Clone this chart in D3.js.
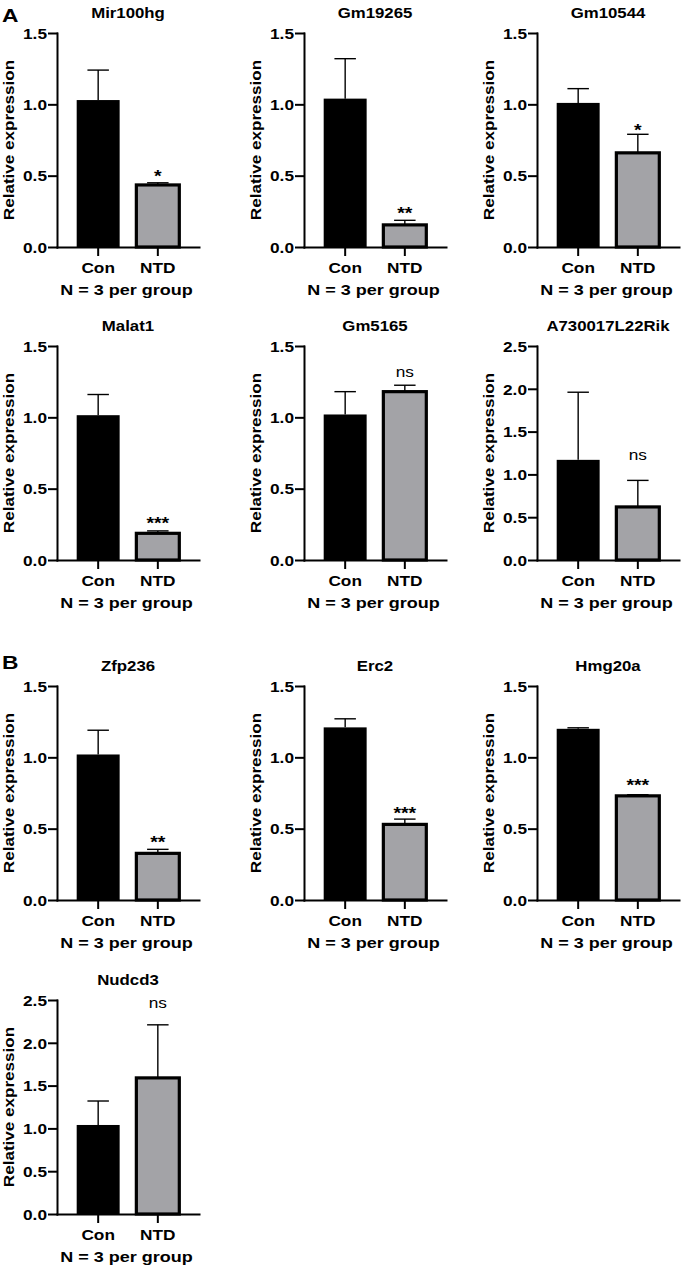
<!DOCTYPE html>
<html>
<head>
<meta charset="utf-8">
<script src="https://cdn.jsdelivr.net/npm/d3@7"></script>
<style>
  body { margin: 0; background: #fff; }
  text { font-family: "Liberation Sans", Arial, sans-serif; fill: #000; }
</style>
</head>
<body>
<div id="dataviz"></div>
<script>
// values
const genes = ["Mir100hg", "Gm19265", "Gm10544", "Malat1", "Gm5165", "A730017L22Rik",
               "Zfp236", "Erc2", "Hmg20a", "Nudcd3"];
const groups = ["Con", "NTD"];
const conMean = [1.03, 1.04, 1.01, 1.015, 1.02, 1.17, 1.02, 1.21, 1.20, 1.04];
const conSem  = [0.21, 0.28, 0.10, 0.145, 0.16, 0.79, 0.17, 0.06, 0.007, 0.28];
const ntdMean = [0.435, 0.155, 0.66, 0.187, 1.18, 0.62, 0.327, 0.53, 0.73, 1.59];
const ntdSem  = [0.015, 0.032, 0.13, 0.017, 0.045, 0.31, 0.028, 0.037, 0.008, 0.62];
const yMax    = [1.5, 1.5, 1.5, 1.5, 1.5, 2.5, 1.5, 1.5, 1.5, 2.5];
const sigMark = ["*", "**", "*", "***", "ns", "ns", "**", "***", "***", "ns"];
const sigLevel = [0.505, 0.245, 0.83, 0.264, 1.28, 1.163, 0.416, 0.617, 0.811, 2.41];
const footNote = "N = 3 per group";

// layout
const W = 685, H = 1267;
const colX = [57, 304, 537];
const rowTop = [33, 346, 686, 1000];
const panelRow = [0, 0, 0, 1, 1, 1, 2, 2, 2, 3];
const panelCol = [0, 1, 2, 0, 1, 2, 0, 1, 2, 0];
const sections = [{ label: "A", y: 22 }, { label: "B", y: 669 }];
const plotW = 142, plotH = 214;
const SX = 1.15;   // the figure's lettering is a bit wider than Arial

const svg = d3.select("#dataviz")
    .append("svg")
    .attr("width", W)
    .attr("height", H);

sections.forEach(s => {
    svg.append("text")
        .attr("transform", `translate(2,${s.y}) scale(1.2,1)`)
        .attr("font-size", "19px")
        .attr("font-weight", "bold")
        .text(s.label);
});

function label(g, str, x, y, size, sx, opts = {}) {
    return g.append("text")
        .attr("transform", `translate(${x},${y}) rotate(${opts.rotate || 0}) scale(${sx},1)`)
        .attr("text-anchor", opts.anchor || "middle")
        .attr("font-size", size + "px")
        .attr("font-weight", opts.weight || "bold")
        .text(str);
}

genes.forEach((gene, i) => {
    const g = svg.append("g")
        .attr("transform", `translate(${colX[panelCol[i]]},${rowTop[panelRow[i]]})`);

    const x = d3.scaleBand()
        .domain(groups)
        .range([0, plotW])
        .paddingInner(0.28)
        .paddingOuter(0.33);
    const y = d3.scaleLinear()
        .domain([0, yMax[i]])
        .range([plotH, 0]);

    const rows = [
        { grp: "Con", mean: conMean[i], sem: conSem[i], fill: "#000" },
        { grp: "NTD", mean: ntdMean[i], sem: ntdSem[i], fill: "#a3a3a7" }
    ];

    // error bars (upper only)
    const err = g.selectAll(".err")
        .data(rows)
        .join("g")
        .attr("class", "err")
        .attr("stroke", "#000")
        .attr("stroke-width", 1.4);
    err.append("line")
        .attr("x1", d => x(d.grp) + x.bandwidth() / 2)
        .attr("x2", d => x(d.grp) + x.bandwidth() / 2)
        .attr("y1", d => y(d.mean))
        .attr("y2", d => y(d.mean + d.sem));
    err.append("line")
        .attr("x1", d => x(d.grp) + x.bandwidth() / 4)
        .attr("x2", d => x(d.grp) + x.bandwidth() * 3 / 4)
        .attr("y1", d => y(d.mean + d.sem))
        .attr("y2", d => y(d.mean + d.sem));

    // bars
    g.selectAll(".bar")
        .data(rows)
        .join("rect")
        .attr("class", "bar")
        .attr("x", d => x(d.grp))
        .attr("width", x.bandwidth())
        .attr("y", d => y(d.mean))
        .attr("height", d => plotH - y(d.mean))
        .attr("fill", d => d.fill)
        .attr("stroke", "#000")
        .attr("stroke-width", d => d.grp === "NTD" ? 3.2 : 0);

    // axes
    const yAxis = g.append("g")
        .call(d3.axisLeft(y)
            .tickValues(d3.range(0, yMax[i] + 0.01, 0.5))
            .tickFormat(d3.format(".1f"))
            .tickSize(8)
            .tickPadding(2)
            .tickSizeOuter(0));
    yAxis.selectAll("text")
        .attr("transform", function () { return `translate(${this.getAttribute("x")},0) scale(${SX},1)`; })
        .attr("x", 0)
        .attr("dy", "0.35em");

    const xAxis = g.append("g")
        .attr("transform", `translate(0,${plotH})`)
        .call(d3.axisBottom(x)
            .tickSize(8)
            .tickSizeOuter(0));
    xAxis.selectAll("text")
        .attr("y", 26)
        .attr("dy", null)
        .attr("transform", `scale(${SX},1)`)
        .attr("x", 0);

    [yAxis, xAxis].forEach(a => {
        a.selectAll("path, line")
            .attr("stroke", "#000")
            .attr("stroke-width", 2)
            .attr("stroke-linecap", "square");
        a.selectAll("text")
            .attr("font-family", "'Liberation Sans', Arial, sans-serif")
            .attr("font-size", "15px")
            .attr("font-weight", "bold")
            .attr("fill", "#000");
    });

    // title, y label, footnote
    label(g, gene, plotW / 2, -15, 14, 1.2);
    label(g, "Relative expression", -43, plotH / 2, 14, 1.22, { rotate: -90 });
    label(g, footNote, plotW / 2 - 1.5, plotH + 48, 15, 1.2);

    // significance
    const isStar = sigMark[i] !== "ns";
    label(g, sigMark[i], x("NTD") + x.bandwidth() / 2,
        y(sigLevel[i]) + (isStar ? 7 : 0), isStar ? 17 : 15, SX,
        { weight: isStar ? "bold" : "normal" });
});
</script>
</body>
</html>
